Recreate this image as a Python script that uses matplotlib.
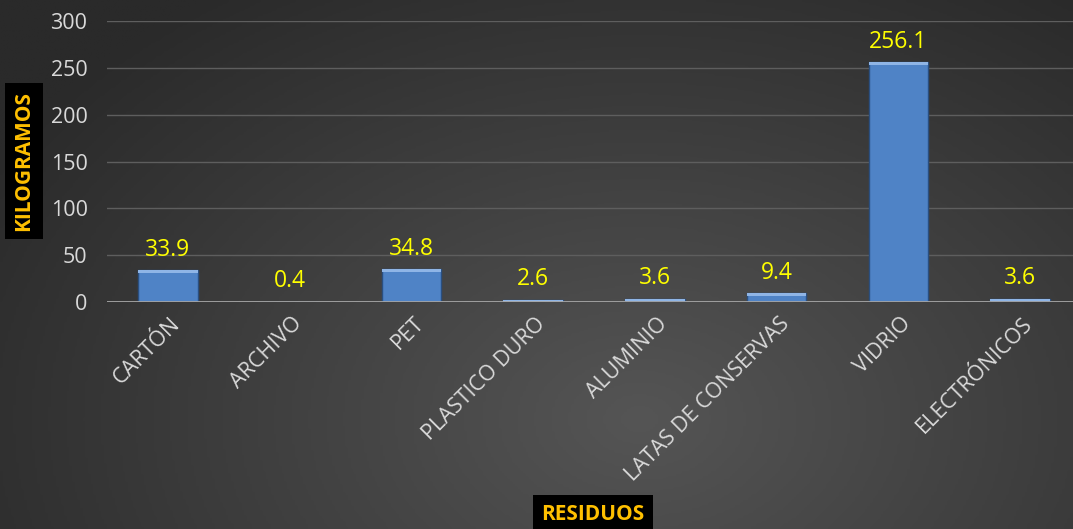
import numpy as np
import matplotlib.pyplot as plt
from matplotlib.colors import LinearSegmentedColormap
from matplotlib.transforms import ScaledTranslation

categorias = ["CARTÓN", "ARCHIVO", "PET", "PLASTICO DURO", "ALUMINIO",
              "LATAS DE CONSERVAS", "VIDRIO", "ELECTRÓNICOS"]
kilogramos = [33.9, 0.4, 34.8, 2.6, 3.6, 9.4, 256.1, 3.6]
ticks_y = [0, 50, 100, 150, 200, 250, 300]

plt.rcParams['font.family'] = ['Open Sans', 'DejaVu Sans']

W, H = 1073, 529
fig = plt.figure(figsize=(W / 100, H / 100), dpi=100)

# fondo degradado radial (claro hacia el centro-abajo, oscuro en los bordes)
bg = fig.add_axes([0, 0, 1, 1])
xx, yy = np.meshgrid(np.linspace(0, W, 400), np.linspace(0, H, 200))
d = np.sqrt(((xx - 640) / 750) ** 2 + ((yy - 420) / 520) ** 2)
cmap = LinearSegmentedColormap.from_list("bg", ["#555555", "#2a2a2a"])
bg.imshow(np.clip(d, 0, 1), cmap=cmap, aspect="auto", extent=[0, 1, 0, 1],
          origin="upper", vmin=0, vmax=1)
bg.axis("off")

ax = fig.add_axes([107 / W, 1 - 302 / H, (1081 - 107) / W, (302 - 21) / H])
ax.patch.set_alpha(0)
x = np.arange(len(categorias))

ax.bar(x, kilogramos, width=0.49, color="#4f83c6", edgecolor="#2a4f80",
       linewidth=1, zorder=3)
# bisel superior
bisel = [min(v, 3.0) for v in kilogramos]
ax.bar(x, bisel, width=0.49, bottom=np.array(kilogramos) - np.array(bisel),
       color="#8fb5e6", linewidth=0, zorder=4)

for xi, v in zip(x, kilogramos):
    ax.text(xi, v + 9, f"{v}", ha="center", va="bottom", color="#ffff00",
            fontsize=16.5, zorder=5)

ax.set_xlim(-0.5, len(categorias) - 0.5)
ax.set_ylim(0, 300)
ax.set_yticks(ticks_y)
ax.yaxis.grid(True, color="#5e5e5e", linewidth=1, zorder=0)
ax.axhline(0, color="#a6a6a6", linewidth=2, zorder=6)
for s in ax.spines.values():
    s.set_visible(False)
ax.tick_params(axis="both", length=0, colors="#d9d9d9", labelsize=15.5)
ax.tick_params(axis="y", pad=14)
ax.set_xticks(x)
ax.set_xticklabels(categorias, rotation=45, ha="right", rotation_mode="anchor")
ax.tick_params(axis="x", pad=8)
desplaz = ScaledTranslation(2 / 100, 0, fig.dpi_scale_trans)
for lbl in ax.get_xticklabels():
    lbl.set_transform(lbl.get_transform() + desplaz)

fig.text(24 / W, 1 - 161 / H, "KILOGRAMOS", rotation=90, ha="center", va="center",
         color="#ffc000", fontsize=15, fontweight="bold",
         bbox=dict(facecolor="black", edgecolor="none", pad=6))
fig.text(593 / W, 1 - 514 / H, "RESIDUOS", ha="center", va="center",
         color="#ffc000", fontsize=15, fontweight="bold",
         bbox=dict(facecolor="black", edgecolor="none", pad=6))

fig.savefig("out.png", dpi=100)
